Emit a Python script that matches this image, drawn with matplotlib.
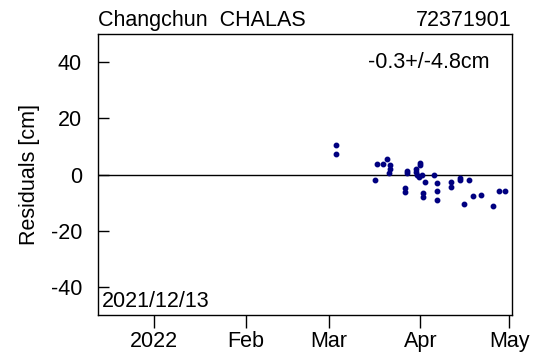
import matplotlib
matplotlib.use("Agg")
import matplotlib.pyplot as plt
import pandas as pd

plt.rcParams['font.family'] = ['Liberation Sans', 'DejaVu Sans']
plt.rcParams['axes.unicode_minus'] = False

station = "Changchun  CHALAS"
station_id = "72371901"
stats_text = "-0.3+/-4.8cm"
start_label = "2021/12/13"

obs_times = [
    "2022-03-03 14:00", "2022-03-03 14:00", "2022-03-16 14:00", "2022-03-17 12:00",
    "2022-03-19 12:00", "2022-03-20 19:00", "2022-03-21 17:00", "2022-03-21 17:00",
    "2022-03-21 10:00", "2022-03-26 19:00", "2022-03-26 19:00", "2022-03-27 12:00",
    "2022-03-27 12:00", "2022-03-30 12:00", "2022-03-30 12:00", "2022-03-31 19:00",
    "2022-03-31 19:00", "2022-03-30 22:00", "2022-03-31 14:00", "2022-04-01 10:00",
    "2022-04-02 14:00", "2022-04-01 19:00", "2022-04-01 19:00", "2022-04-05 14:00",
    "2022-04-06 14:00", "2022-04-06 14:00", "2022-04-06 14:00", "2022-04-11 12:00",
    "2022-04-11 12:00", "2022-04-14 12:00", "2022-04-14 12:00", "2022-04-15 19:00",
    "2022-04-17 14:00", "2022-04-18 17:00", "2022-04-21 14:00", "2022-04-25 17:00",
    "2022-04-27 14:00", "2022-04-29 17:00",
]
residuals = [
    10.4, 7.4, -1.8, 3.7, 3.7, 5.4, 3.3, 2.1,
    0.6, -4.9, -6.3, 1.1, 0.6, 1.9, 0.9, 4.1,
    3.5, -0.1, -0.8, 0.0, -2.6, -6.6, -7.9, 0.0,
    -3.2, -5.9, -9.0, -2.7, -4.6, -1.4, -2.1, -10.5,
    -1.9, -7.7, -7.4, -11.3, -5.7, -5.9,
]
month_ticks = ["2022-01-01", "2022-02-01", "2022-03-01", "2022-04-01", "2022-05-01"]
month_labels = ["2022", "Feb", "Mar", "Apr", "May"]

t = pd.to_datetime(obs_times)
fs = 15.5

fig = plt.figure(figsize=(5.33, 3.58), dpi=100)
ax = fig.add_axes([0.1839, 0.1201, 0.7767, 0.7849])

ax.axhline(0, color='black', lw=1.0)
ax.plot(t, residuals, 'o', color='#000080', ms=3.2, mec='#000080')

ax.set_xlim(pd.Timestamp("2021-12-13"), pd.Timestamp("2022-05-02"))
ax.set_ylim(-50, 50)
ax.set_yticks([-40, -20, 0, 20, 40])
ax.set_xticks(pd.to_datetime(month_ticks))
ax.set_xticklabels(month_labels)

ax.tick_params(axis='x', direction='out', length=9.5, width=1, labelsize=fs, pad=2)
ax.tick_params(axis='y', direction='in', length=8, width=1, labelsize=fs, pad=11.5)
for s in ax.spines.values():
    s.set_linewidth(1.0)

ax.set_ylabel("Residuals [cm]", fontsize=fs, labelpad=8)

ax.text(0.0, 1.01, station, transform=ax.transAxes, ha='left', va='bottom', fontsize=fs)
ax.text(1.0, 1.01, station_id, transform=ax.transAxes, ha='right', va='bottom', fontsize=fs)
ax.text(0.945, 0.935, stats_text, transform=ax.transAxes, ha='right', va='top', fontsize=fs)
ax.text(0.01, 0.01, start_label, transform=ax.transAxes, ha='left', va='bottom', fontsize=fs)

fig.savefig("out.png", dpi=100)
